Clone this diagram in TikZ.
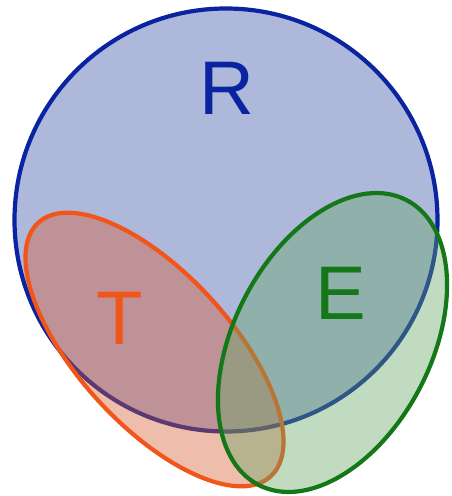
\documentclass[tikz,border=0pt]{standalone}
\usepackage{fontspec}
\setmainfont{Liberation Sans}
\definecolor{rline}{RGB}{10,35,160}
\definecolor{rfill}{RGB}{60,85,170}
\definecolor{tline}{RGB}{242,85,25}
\definecolor{tfill}{RGB}{215,90,45}
\definecolor{eline}{RGB}{20,120,25}
\definecolor{efill}{RGB}{100,165,100}
\tikzset{
  setshape/.style={line width=4.2pt},
  setlabel/.style={inner sep=0pt, font=\fontsize{76}{76}\selectfont}
}
\begin{document}
\begin{tikzpicture}[x=1pt,y=1pt]
\useasboundingbox (0,0) rectangle (451,496);
% R
\path[setshape, draw=rline, fill=rfill, fill opacity=0.42] (226,276) circle (211.5);
% T
\path[setshape, draw=tline, fill=tfill, fill opacity=0.4, rotate around={-47.5:(154.5,146.5)}] (154.5,146.5) ellipse (172 and 76);
% E
\path[setshape, draw=eline, fill=efill, fill opacity=0.4, rotate around={62.5:(332.5,153.5)}] (332.5,153.5) ellipse (160.5 and 98.5);
\node[setlabel, text=rline] (R) at (227,408) {R};
\node[setlabel, text=tline] (T) at (120,178) {T};
\node[setlabel, text=eline] (E) at (341,203) {E};
\end{tikzpicture}
\end{document}
